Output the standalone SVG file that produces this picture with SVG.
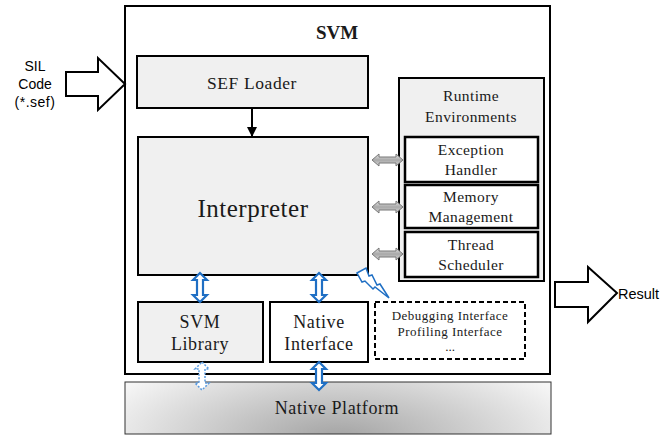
<svg xmlns="http://www.w3.org/2000/svg" width="668" height="436" viewBox="0 0 668 436">
<defs>
<style>
.box{fill:#f0f0f0;stroke:#000;stroke-width:2}
.inner{fill:#fff;stroke:#000;stroke-width:2.5}
.t{font-family:"Liberation Serif","DejaVu Serif",serif;fill:#1a1a1a;text-anchor:middle}
.s{font-family:"Liberation Sans",Arial,sans-serif;fill:#000}
.blue{fill:#fff;stroke:#1f6fc4;stroke-width:2.2}
.gray{fill:url(#gg);stroke:#777;stroke-width:1}
.hollow{fill:#fff;stroke:#000;stroke-width:2}
</style>
<linearGradient id="gg" x1="0" y1="0" x2="0" y2="1">
<stop offset="0" stop-color="#e8e8e8"/><stop offset="0.5" stop-color="#a8a8a8"/><stop offset="1" stop-color="#d8d8d8"/>
</linearGradient>
<radialGradient id="np" cx="0.5" cy="1.1" r="0.6" gradientTransform="translate(0.5 1.1) scale(1 3) translate(-0.5 -1.1)">
<stop offset="0" stop-color="#a2a2a2"/><stop offset="1" stop-color="#f6f6f6"/>
</radialGradient>
<marker id="ah" viewBox="0 0 10 10" refX="9" refY="5" markerWidth="5" markerHeight="5" orient="auto"><path d="M0,0 L10,5 L0,10 z" fill="#000"/></marker>
</defs>

<g id="svm">
<rect x="125" y="6" width="425" height="368" fill="#fff" stroke="#000" stroke-width="2"/>
<text class="t" x="337" y="39" font-size="19" font-weight="bold">SVM</text>
</g>

<g id="native-platform">
<rect x="125" y="382" width="426" height="52" fill="url(#np)" stroke="#333" stroke-width="1"/>
<text class="t" x="337" y="414" font-size="18" letter-spacing="0.6">Native Platform</text>
</g>

<g id="sef-loader">
<rect class="box" x="137" y="56" width="231" height="52"/>
<text class="t" x="252" y="89" font-size="17.5" letter-spacing="0.6">SEF Loader</text>
</g>

<g id="interpreter">
<rect class="box" x="138" y="137" width="230" height="138"/>
<text class="t" x="253" y="217" font-size="25" letter-spacing="0.5">Interpreter</text>
</g>

<g id="runtime">
<rect class="box" x="399" y="78" width="145" height="203"/>
<text class="t" x="471" y="101" font-size="15.5" letter-spacing="0.4">Runtime</text>
<text class="t" x="471" y="122" font-size="15.5" letter-spacing="0.4">Environments</text>
</g>

<g id="exception-handler">
<rect class="inner" x="405" y="137" width="133" height="45"/>
<text class="t" x="471" y="155" font-size="15.5" letter-spacing="0.4">Exception</text>
<text class="t" x="471" y="175" font-size="15.5" letter-spacing="0.4">Handler</text>
</g>

<g id="memory-management">
<rect class="inner" x="405" y="185" width="133" height="43"/>
<text class="t" x="471" y="202" font-size="15.5" letter-spacing="0.4">Memory</text>
<text class="t" x="471" y="222" font-size="15.5" letter-spacing="0.4">Management</text>
</g>

<g id="thread-scheduler">
<rect class="inner" x="405" y="232" width="133" height="45"/>
<text class="t" x="471" y="250" font-size="15.5" letter-spacing="0.4">Thread</text>
<text class="t" x="471" y="270" font-size="15.5" letter-spacing="0.4">Scheduler</text>
</g>

<g id="svm-library">
<rect class="box" x="138" y="302" width="125" height="60"/>
<text class="t" x="200" y="328" font-size="18" letter-spacing="0.6">SVM</text>
<text class="t" x="200" y="350" font-size="18" letter-spacing="0.6">Library</text>
</g>

<g id="native-interface">
<rect x="270" y="302" width="98" height="60" fill="#fff" stroke="#000" stroke-width="2"/>
<text class="t" x="319" y="328" font-size="18" letter-spacing="0.6">Native</text>
<text class="t" x="319" y="350" font-size="18" letter-spacing="0.6">Interface</text>
</g>

<g id="debugging">
<rect x="375" y="302" width="150" height="57" fill="#fff" stroke="#000" stroke-width="2" stroke-dasharray="5,3"/>
<text class="t" x="450" y="320" font-size="13" letter-spacing="0.5">Debugging Interface</text>
<text class="t" x="450" y="336" font-size="13" letter-spacing="0.5">Profiling Interface</text>
<text class="t" x="450" y="351" font-size="13">...</text>
</g>

<g id="sil-code">
<text class="s" x="35" y="71" font-size="14" text-anchor="middle">SIL</text>
<text class="s" x="35" y="89" font-size="14" text-anchor="middle">Code</text>
<text class="s" x="35" y="107" font-size="14" text-anchor="middle" letter-spacing="0.5">(*.sef)</text>
</g>

<g id="result">
<text class="s" x="618" y="299" font-size="14.5">Result</text>
</g>

<g id="connectors">
<path class="hollow" d="M66,72 L98,72 L98,58 L125,84 L98,110 L98,96 L66,96 Z"/>
<path class="hollow" d="M555,282 L588,282 L588,267 L617,293 L588,322 L588,307 L555,307 Z"/>
<line x1="252" y1="108" x2="252" y2="136" stroke="#000" stroke-width="2" marker-end="url(#ah)"/>
<path class="gray" d="M372,160 L379,154 L379,157 L396,157 L396,154 L403,160 L396,166 L396,163 L379,163 L379,166 Z"/>
<path class="gray" d="M372,207 L379,201 L379,204 L396,204 L396,201 L403,207 L396,213 L396,210 L379,210 L379,213 Z"/>
<path class="gray" d="M372,254 L379,248 L379,251 L396,251 L396,248 L403,254 L396,260 L396,257 L379,257 L379,260 Z"/>
<path class="blue" d="M200,273 L207,280 L203,280 L203,295 L207,295 L200,302 L193,295 L197,295 L197,280 L193,280 Z"/>
<path class="blue" d="M319,273 L326,280 L322,280 L322,295 L326,295 L319,302 L312,295 L316,295 L316,280 L312,280 Z"/>
<path class="blue" d="M319,362 L326,369 L322,369 L322,383 L326,383 L319,390 L312,383 L316,383 L316,369 L312,369 Z"/>
<path d="M202,362 L209,369 L205,369 L205,383 L209,383 L202,390 L195,383 L199,383 L199,369 L195,369 Z" fill="#fff" stroke="#5a9be0" stroke-width="1.5" stroke-dasharray="2,1.5"/>
<path d="M357,273 L366,268 L369,276 L372,275 L377,285 L380,284 L389,298 L375,287 L373,289 L365,281 L362,282 Z" fill="#fff" stroke="#1f6fc4" stroke-width="1.5"/>
</g>
</svg>
